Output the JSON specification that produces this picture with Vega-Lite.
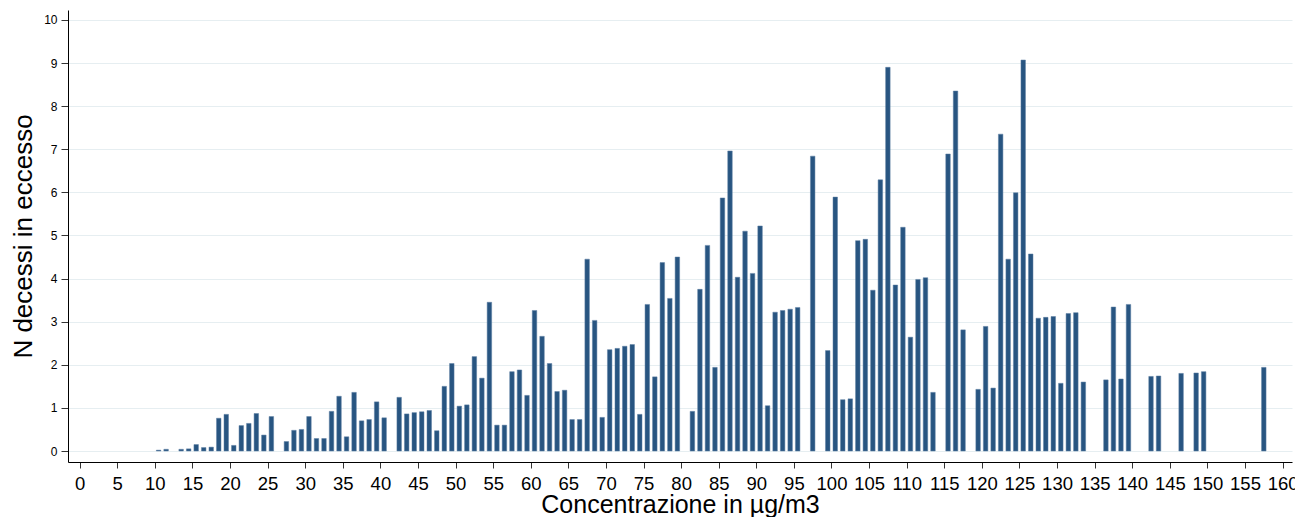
{
  "$schema": "https://vega.github.io/schema/vega-lite/v6.json",
  "width": 1224,
  "height": 452,
  "autosize": {"type": "none"},
  "padding": {"left": 68, "top": 10, "right": 3, "bottom": 55},
  "background": "white",
  "config": {
    "view": {"stroke": null},
    "font": "Liberation Sans"
  },
  "data": {
    "values": [
      {"c": 10.5, "n": 0.02}, {"c": 11.5, "n": 0.04}, {"c": 13.5, "n": 0.04}, {"c": 14.5, "n": 0.05},
      {"c": 15.5, "n": 0.15}, {"c": 16.5, "n": 0.08}, {"c": 17.5, "n": 0.09}, {"c": 18.5, "n": 0.76},
      {"c": 19.5, "n": 0.85}, {"c": 20.5, "n": 0.13}, {"c": 21.5, "n": 0.59}, {"c": 22.5, "n": 0.64},
      {"c": 23.5, "n": 0.87}, {"c": 24.5, "n": 0.37}, {"c": 25.5, "n": 0.80}, {"c": 27.5, "n": 0.22},
      {"c": 28.5, "n": 0.48}, {"c": 29.5, "n": 0.50}, {"c": 30.5, "n": 0.80}, {"c": 31.5, "n": 0.29},
      {"c": 32.5, "n": 0.29}, {"c": 33.5, "n": 0.92}, {"c": 34.5, "n": 1.27}, {"c": 35.5, "n": 0.33},
      {"c": 36.5, "n": 1.36}, {"c": 37.5, "n": 0.70}, {"c": 38.5, "n": 0.73}, {"c": 39.5, "n": 1.14},
      {"c": 40.5, "n": 0.77}, {"c": 42.5, "n": 1.245}, {"c": 43.5, "n": 0.86}, {"c": 44.5, "n": 0.89},
      {"c": 45.5, "n": 0.91}, {"c": 46.5, "n": 0.94}, {"c": 47.5, "n": 0.47}, {"c": 48.5, "n": 1.50},
      {"c": 49.5, "n": 2.03}, {"c": 50.5, "n": 1.04}, {"c": 51.5, "n": 1.07}, {"c": 52.5, "n": 2.19},
      {"c": 53.5, "n": 1.69}, {"c": 54.5, "n": 3.45}, {"c": 55.5, "n": 0.60}, {"c": 56.5, "n": 0.60},
      {"c": 57.5, "n": 1.84}, {"c": 58.5, "n": 1.88}, {"c": 59.5, "n": 1.29}, {"c": 60.5, "n": 3.26},
      {"c": 61.5, "n": 2.66}, {"c": 62.5, "n": 2.03}, {"c": 63.5, "n": 1.38}, {"c": 64.5, "n": 1.41},
      {"c": 65.5, "n": 0.73}, {"c": 66.5, "n": 0.73}, {"c": 67.5, "n": 4.45}, {"c": 68.5, "n": 3.03},
      {"c": 69.5, "n": 0.78}, {"c": 70.5, "n": 2.35}, {"c": 71.5, "n": 2.38}, {"c": 72.5, "n": 2.43},
      {"c": 73.5, "n": 2.47}, {"c": 74.5, "n": 0.85}, {"c": 75.5, "n": 3.40}, {"c": 76.5, "n": 1.72},
      {"c": 77.5, "n": 4.37}, {"c": 78.5, "n": 3.54}, {"c": 79.5, "n": 4.50}, {"c": 81.5, "n": 0.92},
      {"c": 82.5, "n": 3.75}, {"c": 83.5, "n": 4.77}, {"c": 84.5, "n": 1.94}, {"c": 85.5, "n": 5.87},
      {"c": 86.5, "n": 6.96}, {"c": 87.5, "n": 4.03}, {"c": 88.5, "n": 5.10}, {"c": 89.5, "n": 4.12},
      {"c": 90.5, "n": 5.22}, {"c": 91.5, "n": 1.05}, {"c": 92.5, "n": 3.22}, {"c": 93.5, "n": 3.26},
      {"c": 94.5, "n": 3.29}, {"c": 95.5, "n": 3.33}, {"c": 97.5, "n": 6.84}, {"c": 99.5, "n": 2.33},
      {"c": 100.5, "n": 5.89}, {"c": 101.5, "n": 1.19}, {"c": 102.5, "n": 1.21}, {"c": 103.5, "n": 4.88},
      {"c": 104.5, "n": 4.91}, {"c": 105.5, "n": 3.73}, {"c": 106.5, "n": 6.29}, {"c": 107.5, "n": 8.90},
      {"c": 108.5, "n": 3.85}, {"c": 109.5, "n": 5.19}, {"c": 110.5, "n": 2.64}, {"c": 111.5, "n": 3.98},
      {"c": 112.5, "n": 4.02}, {"c": 113.5, "n": 1.36}, {"c": 115.5, "n": 6.89}, {"c": 116.5, "n": 8.35},
      {"c": 117.5, "n": 2.81}, {"c": 119.5, "n": 1.43}, {"c": 120.5, "n": 2.89}, {"c": 121.5, "n": 1.46},
      {"c": 122.5, "n": 7.35}, {"c": 123.5, "n": 4.45}, {"c": 124.5, "n": 5.99}, {"c": 125.5, "n": 9.07},
      {"c": 126.5, "n": 4.57}, {"c": 127.5, "n": 3.08}, {"c": 128.5, "n": 3.10}, {"c": 129.5, "n": 3.12},
      {"c": 130.5, "n": 1.57}, {"c": 131.5, "n": 3.19}, {"c": 132.5, "n": 3.21}, {"c": 133.5, "n": 1.60},
      {"c": 136.5, "n": 1.65}, {"c": 137.5, "n": 3.34}, {"c": 138.5, "n": 1.67}, {"c": 139.5, "n": 3.40},
      {"c": 142.5, "n": 1.73}, {"c": 143.5, "n": 1.74}, {"c": 146.5, "n": 1.80}, {"c": 148.5, "n": 1.81},
      {"c": 149.5, "n": 1.84}, {"c": 157.5, "n": 1.94}
    ]
  },
  "mark": {"type": "bar", "size": 4.5, "fill": "#285581", "stroke": "#5d7fa3", "strokeWidth": 0.5},
  "encoding": {
    "x": {
      "field": "c",
      "type": "quantitative",
      "scale": {"domain": [-1.55, 161.25], "nice": false, "zero": false, "padding": 0},
      "axis": {
        "values": [0,5,10,15,20,25,30,35,40,45,50,55,60,65,70,75,80,85,90,95,100,105,110,115,120,125,130,135,140,145,150,155,160],
        "title": "Concentrazione in µg/m3",
        "titleFont": "Liberation Sans",
        "titleFontSize": 25,
        "titleFontWeight": "normal",
        "titleColor": "#000000",
        "titlePadding": 0,
        "labelFont": "Liberation Sans",
        "labelFontSize": 18.5,
        "labelColor": "#000000",
        "labelPadding": 6,
        "labelOverlap": false,
        "labelFlush": false,
        "tickSize": 6,
        "tickColor": "#333333",
        "domainColor": "#000000",
        "grid": false
      }
    },
    "y": {
      "field": "n",
      "type": "quantitative",
      "scale": {"domain": [-0.255, 10.23], "nice": false, "zero": false, "padding": 0},
      "axis": {
        "values": [0,1,2,3,4,5,6,7,8,9,10],
        "title": "N decessi in eccesso",
        "titleFont": "Liberation Sans",
        "titleFontSize": 26,
        "titleFontWeight": "normal",
        "titleColor": "#000000",
        "titlePadding": 7,
        "labelFont": "Liberation Sans",
        "labelFontSize": 12,
        "labelColor": "#000000",
        "labelPadding": 4,
        "tickSize": 7,
        "tickColor": "#333333",
        "domainColor": "#000000",
        "grid": true,
        "gridColor": "#e6eef1",
        "gridWidth": 1
      }
    },
    "y2": {"datum": 0}
  }
}
